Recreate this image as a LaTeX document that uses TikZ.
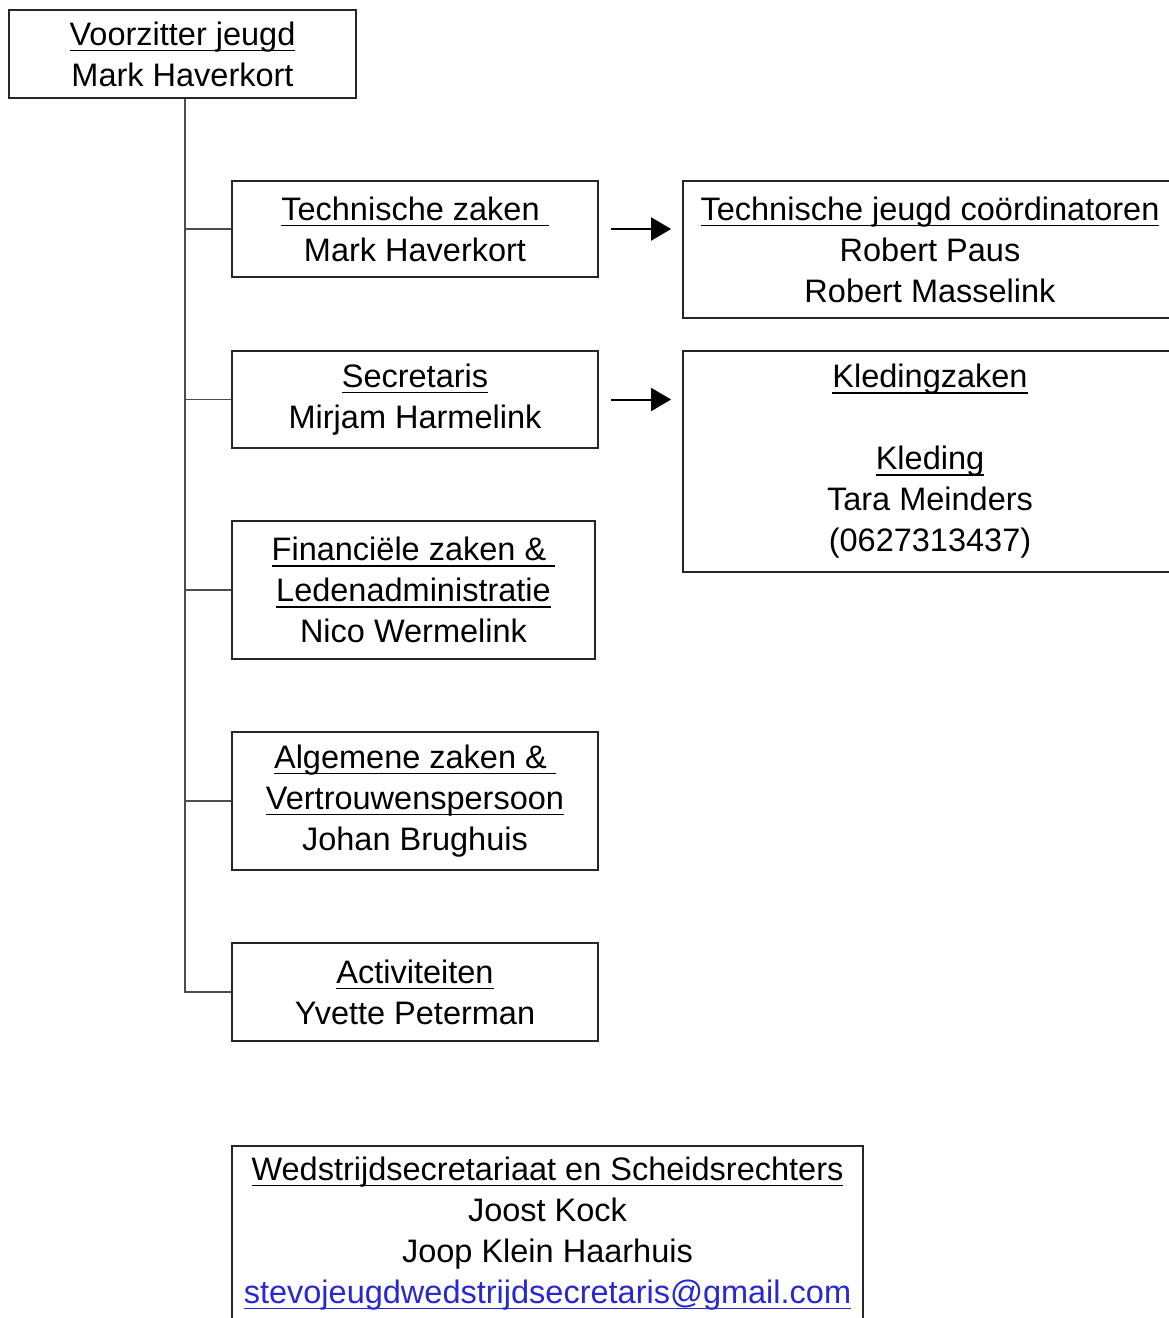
\documentclass[tikz,border=0pt]{standalone}
\usepackage{fontspec}
\setmainfont{Liberation Sans}
\usetikzlibrary{arrows.meta}

% underlined text, line runs through the descenders
\newcommand{\ulbox}[1]{\setbox0=\hbox{#1}\rlap{\rule[-6pt]{\wd0}{1.5pt}}\box0}
\definecolor{maillink}{RGB}{40,40,210}

\tikzset{
  orgbox/.style={draw=black!85, line width=1.8pt, align=center, inner sep=0pt,
    font=\fontsize{32.5}{41}\selectfont},
  branch/.style={draw=black!70, line width=1.5pt},
  pointer/.style={line width=2pt, -{Triangle[length=20pt,width=23pt]}}
}

\begin{document}
\begin{tikzpicture}[x=1pt,y=-1pt]
    \useasboundingbox (0,0) rectangle (1169,1318);
    \clip (0,0) rectangle (1169,1318);
    % Chair
    \node[orgbox, minimum width=347pt, minimum height=88pt] (chair) at (182.5,54)
        {\ulbox{Voorzitter jeugd}\\Mark Haverkort};
    % Portfolios
    \node[orgbox, minimum width=366pt, minimum height=96pt] (tech) at (415,229)
        {\ulbox{Technische zaken\ }\\Mark Haverkort};
    \node[orgbox, minimum width=366pt, minimum height=97pt] (secr) at (415,399.5)
        {\ulbox{Secretaris}\\Mirjam Harmelink};
    \node[orgbox, minimum width=363pt, minimum height=138pt] (fin) at (413.5,590)
        {\ulbox{Financiële zaken \&\ }\\\ulbox{Ledenadministratie}\\Nico Wermelink};
    \node[orgbox, minimum width=366pt, minimum height=138pt] (alg) at (415,801)
        {\ulbox{Algemene zaken \&\ }\\\ulbox{Vertrouwenspersoon}\\Johan Brughuis};
    \node[orgbox, minimum width=366pt, minimum height=98pt] (act) at (415,992)
        {\ulbox{Activiteiten}\\Yvette Peterman};
    % Sub groups
    \node[orgbox, minimum width=494pt, minimum height=137pt] (coord) at (930,249.5)
        {\ulbox{Technische jeugd coördinatoren}\\Robert Paus\\Robert Masselink};
    \node[orgbox, minimum width=494pt, minimum height=221pt] (kled) at (930,461.5)
        {\ulbox{Kledingzaken}\\[41pt]\ulbox{Kleding}\\Tara Meinders\\(0627313437)};
    % Match secretariat
    \node[orgbox, minimum width=631pt, minimum height=175pt] (wed) at (547.5,1233.5)
        {\ulbox{Wedstrijdsecretariaat en Scheidsrechters}\\Joost Kock\\Joop Klein Haarhuis\\
         {\color{maillink}\ulbox{stevojeugdwedstrijdsecretaris@gmail.com}}};
    % Tree lines
    \foreach \unit in {tech,secr,fin,alg,act}
        \draw[branch] ([xshift=2.5pt]chair.south) |- (\unit.west);
    % Arrows
    \draw[pointer] ([xshift=12pt]tech.east) -- ([xshift=-11pt]tech.east -| coord.west);
    \draw[pointer] ([xshift=12pt]secr.east) -- ([xshift=-11pt]secr.east -| kled.west);
\end{tikzpicture}
\end{document}
